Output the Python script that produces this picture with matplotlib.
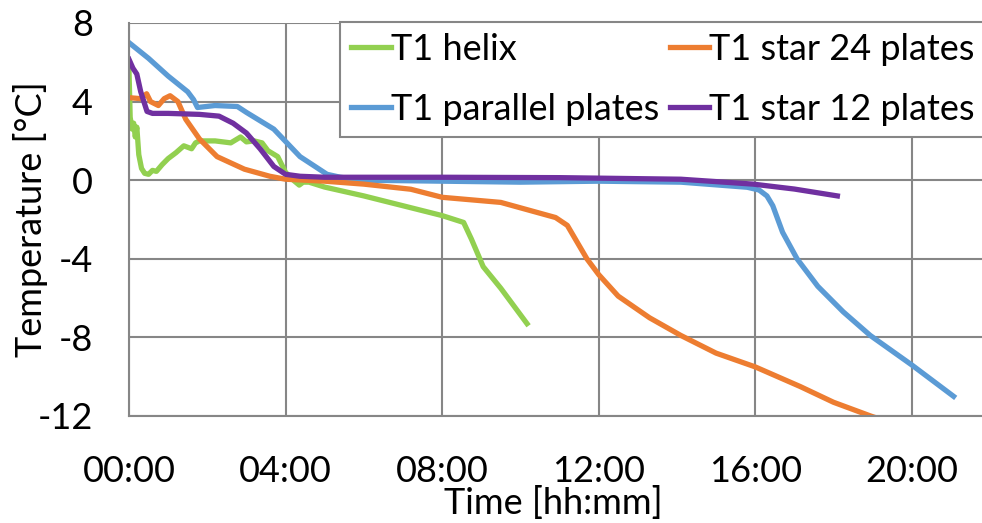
import matplotlib
matplotlib.use('Agg')
import matplotlib.pyplot as plt
from matplotlib.ticker import FuncFormatter

plt.rcParams['font.family'] = ['Lato', 'DejaVu Sans']
plt.rcParams['axes.unicode_minus'] = False

# time in hours, temperature in degC
helix_t = [0, 0.03, 0.08, 0.12, 0.16, 0.2, 0.25, 0.32, 0.4, 0.5, 0.6, 0.7, 0.85, 1.0, 1.2,
           1.4, 1.6, 1.7, 1.8, 2.2, 2.6, 2.85, 3.0, 3.2, 3.4, 3.55, 3.8, 4.0, 4.2, 4.35,
           4.45, 4.6, 5.0, 6.0, 7.0, 8.0, 8.55, 8.75, 9.05, 9.5, 10.17]
helix_T = [5.6, 3.2, 2.6, 2.9, 2.2, 2.7, 1.3, 0.6, 0.35, 0.3, 0.5, 0.45, 0.8, 1.1, 1.4,
           1.75, 1.6, 1.9, 2.0, 2.0, 1.9, 2.2, 1.95, 2.0, 1.9, 1.5, 1.2, 0.4, 0.0, -0.25,
           -0.1, -0.1, -0.35, -0.8, -1.3, -1.8, -2.15, -3.0, -4.4, -5.5, -7.3]

star24_t = [0, 0.3, 0.45, 0.55, 0.75, 0.9, 1.05, 1.25, 1.45, 1.8, 2.25, 2.95, 3.6, 4.0,
            5.0, 6.0, 7.2, 8.0, 9.5, 10.9, 11.2, 11.7, 12.0, 12.5, 13.3, 14.1, 15.0,
            16.0, 17.15, 18.0, 18.95, 19.1]
star24_T = [4.2, 4.15, 4.4, 4.0, 3.8, 4.15, 4.3, 4.0, 3.1, 2.1, 1.2, 0.56, 0.2, 0.05,
            -0.05, -0.2, -0.46, -0.87, -1.13, -1.9, -2.3, -4.0, -4.8, -5.9, -7.0, -7.9,
            -8.8, -9.5, -10.5, -11.3, -12.0, -12.1]

parallel_t = [0, 0.5, 1.0, 1.5, 1.65, 1.75, 2.2, 2.77, 3.0, 3.7, 4.37, 5.06, 5.4, 6.0,
              8.0, 10.0, 12.0, 14.1, 15.8, 16.1, 16.3, 16.45, 16.7, 17.07, 17.6, 18.25,
              18.94, 20.0, 21.07]
parallel_T = [7.0, 6.2, 5.3, 4.5, 4.1, 3.7, 3.8, 3.75, 3.45, 2.6, 1.2, 0.3, 0.15, 0.0,
              -0.05, -0.1, -0.05, -0.1, -0.36, -0.5, -0.8, -1.3, -2.65, -4.0, -5.4, -6.7,
              -7.9, -9.4, -11.0]

star12_t = [0, 0.1, 0.2, 0.3, 0.46, 0.6, 1.0, 1.8, 2.3, 2.66, 3.0, 3.35, 3.7, 4.0,
            4.37, 5.0, 8.0, 11.0, 14.1, 15.95, 17.0, 18.1]
star12_T = [6.15, 5.7, 5.4, 4.5, 3.5, 3.4, 3.4, 3.35, 3.26, 2.9, 2.4, 1.6, 0.7, 0.3,
            0.2, 0.15, 0.15, 0.13, 0.05, -0.2, -0.45, -0.8]

x_ticks = [0, 4, 8, 12, 16, 20]
y_ticks = [-12, -8, -4, 0, 4, 8]

fig = plt.figure(figsize=(9.82, 5.23), dpi=100)
ax = fig.add_axes([129 / 982, 107 / 523, 861 / 982, 393 / 523])

lw = 3.8
l1, = ax.plot(helix_t, helix_T, color='#92D050', lw=lw, label='T1 helix')
l2, = ax.plot(parallel_t, parallel_T, color='#5B9BD5', lw=lw, label='T1 parallel plates')
l3, = ax.plot(star24_t, star24_T, color='#ED7D31', lw=lw, label='T1 star 24 plates')
l4, = ax.plot(star12_t, star12_T, color='#7030A0', lw=lw, label='T1 star 12 plates')

ax.set_xlim(0, 22)
ax.set_ylim(-12, 8)
ax.set_xticks(x_ticks)
ax.set_yticks(y_ticks)
ax.xaxis.set_major_formatter(FuncFormatter(lambda v, p: '%02d:00' % int(v)))
ax.grid(True, color='#868686', lw=1.5)
ax.set_axisbelow(True)
for s in ['top', 'right']:
    ax.spines[s].set_visible(False)
for s in ['left', 'bottom']:
    ax.spines[s].set_color('#868686')
    ax.spines[s].set_linewidth(1.5)

fs = 26
ax.tick_params(length=0, labelsize=fs)
ax.tick_params(axis='x', pad=28)
ax.tick_params(axis='y', pad=26)

ax.set_xlabel('Time [hh:mm]', fontsize=fs)
ax.set_ylabel('Temperature [°C]', fontsize=fs)
ax.xaxis.set_label_coords((553 - 129) / 861, (416 - 486) / 393)
ax.yaxis.set_label_coords((48 - 129) / 861, 0.5)

leg = fig.legend(handles=[l1, l2, l3, l4], ncol=2, fontsize=fs,
                 loc='upper left', bbox_to_anchor=(340 / 982, 1 - 22 / 523),
                 frameon=True, fancybox=False, framealpha=1, edgecolor='#868686',
                 borderaxespad=0, borderpad=0.3, handlelength=1.1,
                 handletextpad=0.0, columnspacing=0.3, labelspacing=0.75)
leg.get_frame().set_linewidth(1.5)

fig.savefig('out.png', dpi=100)
